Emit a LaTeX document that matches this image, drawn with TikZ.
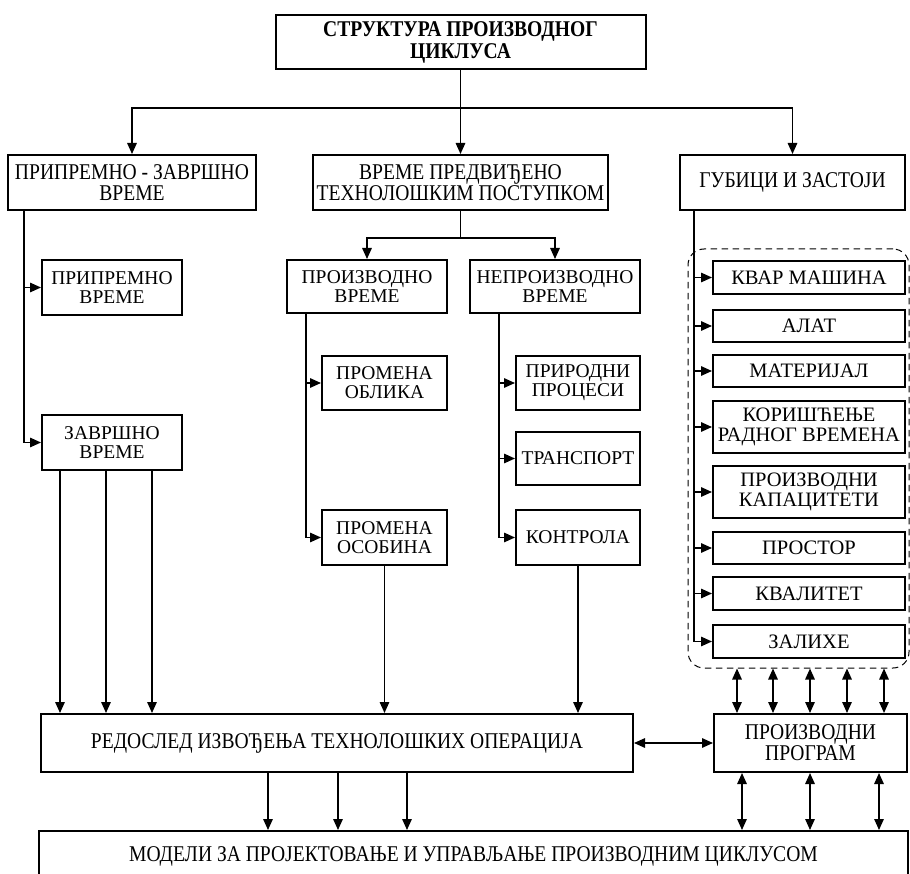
\documentclass[tikz,border=0pt]{standalone}
\usepackage{fontspec}
\setmainfont{Liberation Serif}
\newfontfamily\condfont{Liberation Serif}[FakeStretch=0.87]
\usetikzlibrary{arrows.meta,calc}
\begin{document}
\begin{tikzpicture}[x=1pt,y=-1pt,
  box/.style={draw, line width=2pt, align=center, inner sep=0pt, font=\fontsize{19.5}{19}\selectfont},
  cbox/.style={box, font=\condfont\fontsize{22.5}{21}\selectfont},
  conn/.style={line width=1.5pt},
  arr/.style={conn,-{Triangle[length=11pt,width=9.5pt]}},
  darr/.style={conn,{Triangle[length=11pt,width=9.5pt]}-{Triangle[length=11pt,width=9.5pt]}},
  grpbox/.style={draw, line width=1pt, dash pattern=on 6.5pt off 4.5pt, rounded corners=16pt},
  lossbox/.style={box, minimum width=192pt, font=\fontsize{20.5}{20.5}\selectfont},
]
\useasboundingbox (0,0) rectangle (910,874);

% top level
\node[cbox, font=\condfont\bfseries\fontsize{22.5}{22}\selectfont, minimum width=370pt, minimum height=54pt] (title) at (460.5,42) {СТРУКТУРА ПРОИЗВОДНОГ\\ЦИКЛУСА};
\node[cbox, minimum width=248pt, minimum height=55pt] (b1) at (132,182.5) {ПРИПРЕМНО - ЗАВРШНО\\ВРЕМЕ};
\node[cbox, minimum width=295pt, minimum height=55pt] (b2) at (460.5,182.5) {ВРЕМЕ ПРЕДВИЂЕНО\\ТЕХНОЛОШКИМ ПОСТУПКОМ};
\node[cbox, minimum width=225pt, minimum height=55pt] (b3) at (792.5,182.5) {ГУБИЦИ И ЗАСТОЈИ};

% left column
\node[box, minimum width=140pt, minimum height=55pt] (pv) at (112,287.5) {ПРИПРЕМНО\\ВРЕМЕ};
\node[box, minimum width=140pt, minimum height=55pt] (zv) at (112,442.5) {ЗАВРШНО\\ВРЕМЕ};

% middle columns
\node[box, minimum width=160pt, minimum height=53pt] (prv) at (367,286.5) {ПРОИЗВОДНО\\ВРЕМЕ};
\node[box, minimum width=170pt, minimum height=53pt] (nev) at (555,286.5) {НЕПРОИЗВОДНО\\ВРЕМЕ};
\node[box, minimum width=125pt, minimum height=54pt] (po) at (384.5,383) {ПРОМЕНА\\ОБЛИКА};
\node[box, minimum width=125pt, minimum height=55pt] (pos) at (384.5,537.5) {ПРОМЕНА\\ОСОБИНА};
\node[box, minimum width=124pt, minimum height=54pt] (pp) at (578,383) {ПРИРОДНИ\\ПРОЦЕСИ};
\node[box, minimum width=124pt, minimum height=53pt] (tr) at (578,458.5) {ТРАНСПОРТ};
\node[box, minimum width=124pt, minimum height=55pt] (ko) at (578,537.5) {КОНТРОЛА};

% losses
\node[grpbox, minimum width=221pt, minimum height=419pt] (grp) at (798.5,458.5) {};
\node[lossbox, minimum height=33pt] (l1) at (809,277.5) {КВАР МАШИНА};
\node[lossbox, minimum height=32pt] (l2) at (809,326) {АЛАТ};
\node[lossbox, minimum height=32pt] (l3) at (809,371) {МАТЕРИЈАЛ};
\node[lossbox, minimum height=52pt] (l4) at (809,427) {КОРИШЋЕЊЕ\\РАДНОГ ВРЕМЕНА};
\node[lossbox, minimum height=52pt] (l5) at (809,492) {ПРОИЗВОДНИ\\КАПАЦИТЕТИ};
\node[lossbox, minimum height=32pt] (l6) at (809,548) {ПРОСТОР};
\node[lossbox, minimum height=33pt] (l7) at (809,593.5) {КВАЛИТЕТ};
\node[lossbox, minimum height=33pt] (l8) at (809,641.5) {ЗАЛИХЕ};

% bottom
\node[cbox, minimum width=592pt, minimum height=58pt] (red) at (337,743) {РЕДОСЛЕД ИЗВОЂЕЊА ТЕХНОЛОШКИХ ОПЕРАЦИЈА};
\node[cbox, minimum width=193pt, minimum height=58pt] (pg) at (810.5,743) {ПРОИЗВОДНИ\\ПРОГРАМ};
\node[cbox, minimum width=869pt, minimum height=50pt] (mod) at (473.5,856) {МОДЕЛИ ЗА ПРОЈЕКТОВАЊЕ И УПРАВЉАЊЕ ПРОИЗВОДНИМ ЦИКЛУСОМ};

% connectors: top level
\draw[conn] (title.south) -- ++(0,38) coordinate (hj);
\draw[arr] (hj) -| (b1.north);
\draw[arr] (hj) -- (b2.north);
\draw[arr] (hj) -| (b3.north);

% left trunk
\path ([xshift=17pt]b1.south west) coordinate (lt);
\draw[arr] (lt) |- (pv.west);
\draw[arr] (lt) |- (zv.west);
\foreach \dx in {19,65,111} {
  \path ([xshift=\dx pt]zv.south west) coordinate (t);
  \draw[arr] (t) -- (t |- red.north);
}

% middle
\draw[conn] (b2.south) -- ++(0,27) coordinate (mj);
\draw[arr] (mj) -| (prv.north);
\draw[arr] (mj) -| (nev.north);
\path ([xshift=20pt]prv.south west) coordinate (mt);
\draw[arr] (mt) |- (po.west);
\draw[arr] (mt) |- (pos.west);
\path ([xshift=30pt]nev.south west) coordinate (nt);
\draw[arr] (nt) |- (pp.west);
\draw[arr] (nt) |- (tr.west);
\draw[arr] (nt) |- (ko.west);
\draw[arr] (pos.south) -- (pos.south |- red.north);
\draw[arr] (ko.south) -- (ko.south |- red.north);

% losses trunk
\path ([xshift=15pt]b3.south west) coordinate (rt);
\foreach \n in {l1,l2,l3,l4,l5,l6,l7,l8} {
  \draw[arr] (rt) |- (\n.west);
}

% double arrows
\foreach \dx in {-61.5,-25.5,11.5,48.5,85.5} {
  \path (grp.south) ++(\dx,0) coordinate (t);
  \draw[darr] (t) -- (t |- pg.north);
}
\draw[darr] (red.east) -- (pg.west);
\foreach \dx in {-69,1,70} {
  \path (red.south) ++(\dx,0) coordinate (t);
  \draw[arr] (t) -- (t |- mod.north);
}
\foreach \dx in {-68.5,-0.5,68.5} {
  \path (pg.south) ++(\dx,0) coordinate (t);
  \draw[darr] (t) -- (t |- mod.north);
}
\end{tikzpicture}
\end{document}
